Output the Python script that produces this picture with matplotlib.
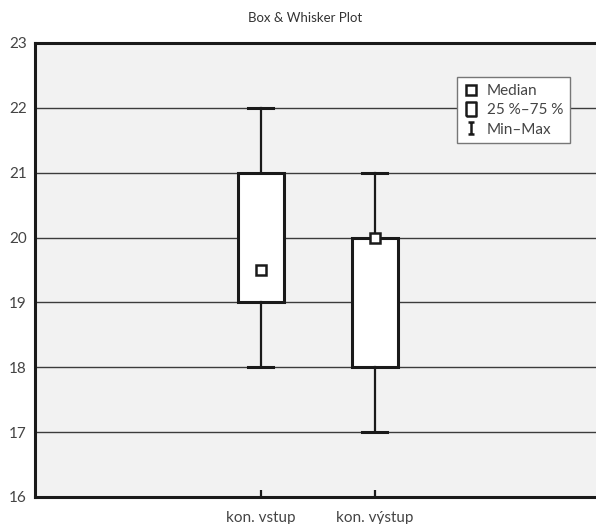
import matplotlib.pyplot as plt
from matplotlib.lines import Line2D
from matplotlib.path import Path

plt.rcParams['font.family'] = ['Lato', 'DejaVu Sans']

categories = ['kon. vstup', 'kon. výstup']
positions = [1, 2]
medians = [19.5, 20.0]
q1 = [19.0, 18.0]
q3 = [21.0, 20.0]
mins = [18.0, 17.0]
maxs = [22.0, 21.0]
yticks = [16, 17, 18, 19, 20, 21, 22, 23]

fig = plt.figure(figsize=(5.96, 5.24), dpi=100)
ax = fig.add_axes([35 / 596, 27 / 524, 561 / 596, 454 / 524])
ax.set_facecolor('#f2f2f2')

stats = []
for i, name in enumerate(categories):
    stats.append({'med': medians[i], 'q1': q1[i], 'q3': q3[i],
                  'whislo': mins[i], 'whishi': maxs[i], 'label': name})

ax.bxp(stats, positions=positions, widths=0.4, capwidths=0.22,
       showfliers=False, patch_artist=True, zorder=3,
       boxprops=dict(facecolor='white', edgecolor='#1a1a1a', linewidth=2.2),
       whiskerprops=dict(color='#1a1a1a', linewidth=1.6),
       capprops=dict(color='#1a1a1a', linewidth=2.2),
       medianprops=dict(visible=False))

ax.plot(positions, medians, linestyle='none', marker='s', markersize=7,
        markerfacecolor='white', markeredgecolor='#1a1a1a',
        markeredgewidth=1.8, zorder=5)

ax.set_ylim(16, 23)
ax.set_xlim(-0.982, 3.939)
ax.set_yticks(yticks)
ax.set_xticks(positions)
ax.set_xticklabels(categories)
ax.yaxis.grid(True, color='#3c3c3c', linewidth=1.0, zorder=1)
ax.set_axisbelow(True)

ax.tick_params(axis='y', length=0, pad=6, labelsize=11, labelcolor='#444444')
ax.tick_params(axis='x', direction='in', length=5, width=1.6, color='#1a1a1a',
               pad=10, labelsize=11, labelcolor='#444444')

for side in ['left', 'bottom', 'top']:
    ax.spines[side].set_linewidth(2.2)
    ax.spines[side].set_color('#1a1a1a')
ax.spines['right'].set_visible(False)

fig.text(305 / 596, 1 - 18 / 524, 'Box & Whisker Plot', ha='center', va='center',
         fontsize=9.5, color='#333333')

ibeam = Path([(-0.45, 1), (0.45, 1), (0, 1), (0, -1), (-0.45, -1), (0.45, -1)],
             [Path.MOVETO, Path.LINETO, Path.MOVETO, Path.LINETO,
              Path.MOVETO, Path.LINETO])
rect = Path([(-0.66, -1), (0.66, -1), (0.66, 1), (-0.66, 1), (-0.66, -1)])
handles = [
    Line2D([], [], linestyle='none', marker='s', markersize=6.5,
           markerfacecolor='white', markeredgecolor='#1a1a1a', markeredgewidth=1.8),
    Line2D([], [], linestyle='none', marker=rect, markersize=10.5,
           markerfacecolor='white', markeredgecolor='#1a1a1a', markeredgewidth=1.8),
    Line2D([], [], linestyle='none', marker=ibeam, markersize=9,
           markeredgecolor='#1a1a1a', markeredgewidth=1.8),
]
labels = ['Median', '25 %–75 %', 'Min–Max']
leg = fig.legend(handles, labels, loc='upper left',
                 bbox_to_anchor=(457 / 596, 1 - 77 / 524),
                 frameon=True, fancybox=False,
                 framealpha=1, edgecolor='#777777', fontsize=11,
                 handlelength=0.9, handletextpad=0.6, labelspacing=0.35,
                 borderpad=0.45, borderaxespad=0)
leg.get_frame().set_linewidth(1.0)
for t in leg.get_texts():
    t.set_color('#444444')

fig.savefig('out.png', dpi=100)
